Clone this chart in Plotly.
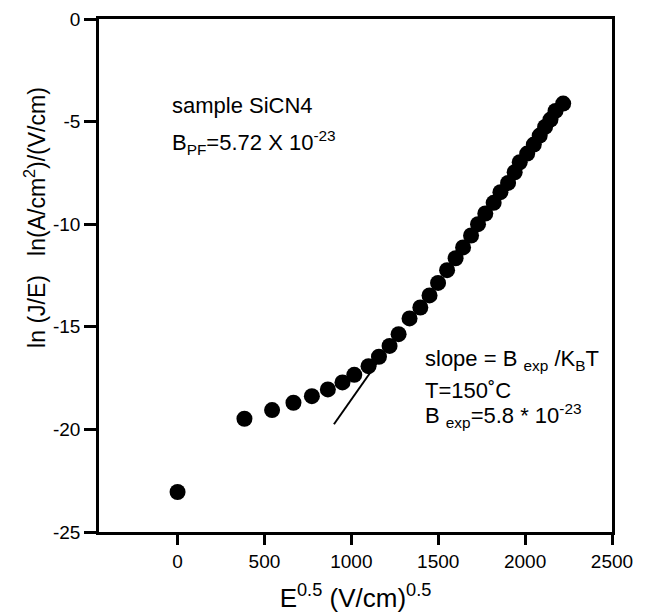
import plotly.graph_objects as go

# Data
e_sqrt = [0, 385, 544, 667, 773, 865, 949, 1017, 1099, 1159, 1220, 1272,
          1335, 1397, 1450, 1499, 1551, 1600, 1643, 1689, 1729, 1771, 1819,
          1858, 1902, 1940, 1969, 2012, 2050, 2084, 2115, 2146, 2175, 2219]
ln_je = [-23.05, -19.48, -19.06, -18.70, -18.38, -18.05, -17.71, -17.34,
         -16.92, -16.46, -15.93, -15.36, -14.59, -14.06, -13.47, -12.86,
         -12.24, -11.66, -11.13, -10.55, -10.00, -9.48, -8.96, -8.44, -7.99,
         -7.47, -6.98, -6.56, -6.12, -5.68, -5.26, -4.90, -4.48, -4.12]

fit_x = [900, 1160]
fit_y = [-19.75, -16.62]

x_ticks = [0, 500, 1000, 1500, 2000, 2500]
y_ticks = [0, -5, -10, -15, -20, -25]

FONT = "Liberation Sans, Arial, Helvetica, sans-serif"

fig = go.Figure()
fig.add_trace(go.Scatter(x=fit_x, y=fit_y, mode="lines",
                         line=dict(color="black", width=2), showlegend=False))
fig.add_trace(go.Scatter(x=e_sqrt, y=ln_je, mode="markers",
                         marker=dict(color="black", size=16), showlegend=False))

axis_common = dict(showgrid=False, zeroline=False, showline=True,
                   linecolor="black", linewidth=2.5, mirror=True,
                   ticks="outside", tickcolor="black", tickwidth=2.5,
                   automargin=False,
                   tickfont=dict(family=FONT, size=19, color="black"))

fig.update_xaxes(range=[-452, 2500], tickvals=x_ticks,
                 ticktext=[str(v) for v in x_ticks], ticklen=10,
                 title=dict(text="E<sup>0.5</sup> (V/cm)<sup>0.5</sup>",
                            font=dict(family=FONT, size=26, color="black"),
                            standoff=22),
                 **axis_common)
fig.update_yaxes(range=[-25, 0], tickvals=y_ticks,
                 ticktext=[str(v) for v in y_ticks], ticklen=12,
                 **axis_common)

ann_font = dict(family=FONT, size=22, color="black")
fig.add_annotation(x=-45, y=-4.2, text="sample SiCN4", showarrow=False,
                   xanchor="left", yanchor="middle", font=ann_font)
fig.add_annotation(x=-45, y=-6.0, text="B<sub>PF</sub>=5.72 X 10<sup>-23</sup>",
                   showarrow=False, xanchor="left", yanchor="middle", font=ann_font)
fig.add_annotation(x=1410, y=-16.6, text="slope = B <sub>exp</sub> /K<sub>B</sub>T",
                   showarrow=False, xanchor="left", yanchor="middle", font=ann_font)
fig.add_annotation(x=1410, y=-18.1, text="T=150˚C",
                   showarrow=False, xanchor="left", yanchor="middle", font=ann_font)
fig.add_annotation(x=1410, y=-19.3, text="B <sub>exp</sub>=5.8 * 10<sup>-23</sup>",
                   showarrow=False, xanchor="left", yanchor="middle", font=ann_font)

# y-axis title as rotated text
fig.add_annotation(xref="paper", yref="paper", x=-0.125, y=0.614,
                   text="ln (J/E)   ln(A/cm<sup>2</sup>)/(V/cm)",
                   textangle=-90, showarrow=False, xanchor="center", yanchor="middle",
                   font=dict(family=FONT, size=23, color="black"))

fig.update_layout(width=645, height=613,
                  margin=dict(l=99, r=33, t=19, b=81),
                  plot_bgcolor="white", paper_bgcolor="white")

fig.write_html("out.html")
